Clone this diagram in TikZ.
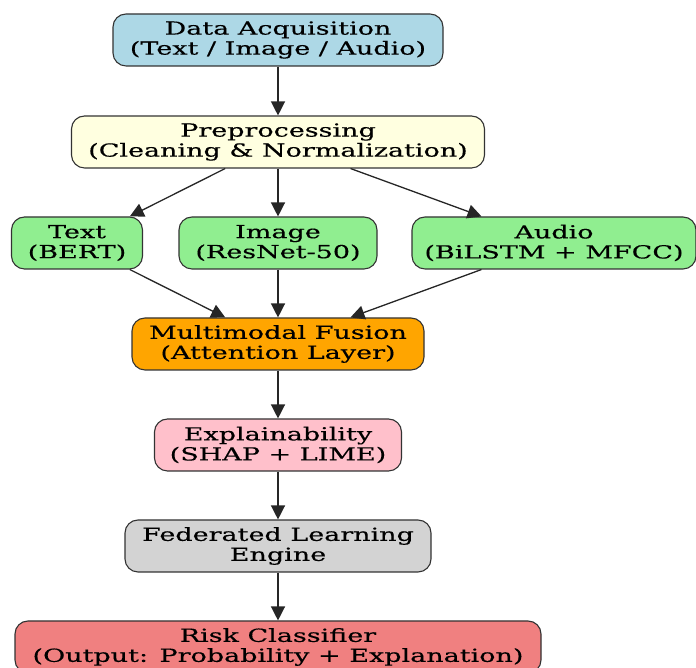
\documentclass[tikz,border=0pt]{standalone}
\usepackage{fontspec}
\setmainfont{DejaVu Serif}[FakeStretch=1.5,FakeBold=0.4]
\usetikzlibrary{arrows.meta}
\definecolor{lblue}{RGB}{173,216,230}
\definecolor{lyellow}{RGB}{255,255,224}
\definecolor{lgreen}{RGB}{144,238,144}
\definecolor{dorange}{RGB}{255,165,0}
\definecolor{lpink}{RGB}{255,192,203}
\definecolor{lgray}{RGB}{211,211,211}
\definecolor{lcoral}{RGB}{240,128,128}
\tikzstyle{block}=[draw=black!80,line width=1.1pt,rounded corners=13pt,minimum height=52pt,align=center,inner sep=2pt,font=\fontsize{18}{20}\selectfont]
\tikzstyle{flow}=[-{Triangle[length=14pt,width=14pt]},line width=1.3pt,black!85]

\begin{document}
\begin{tikzpicture}[x=1pt,y=1pt]
\useasboundingbox (0,0) rectangle (696,668);
  \node[block,fill=lblue,minimum width=330pt] (acq) at (278,628) {Data Acquisition\\(Text / Image / Audio)};
  \node[block,fill=lyellow,minimum width=413pt] (prep) at (278,526) {Preprocessing\\(Cleaning \& Normalization)};
  \node[block,fill=lgreen,minimum width=131pt] (txt) at (77,425) {Text\\(BERT)};
  \node[block,fill=lgreen,minimum width=198pt] (img) at (278,425) {Image\\(ResNet-50)};
  \node[block,fill=lgreen,minimum width=284pt] (aud) at (554,425) {Audio\\(BiLSTM + MFCC)};
  \node[block,fill=dorange,minimum width=292pt] (fus) at (278,324) {Multimodal Fusion\\(Attention Layer)};
  \node[block,fill=lpink,minimum width=247pt] (xai) at (278,223) {Explainability\\(SHAP + LIME)};
  \node[block,fill=lgray,minimum width=306pt] (fed) at (278,122) {Federated Learning\\Engine};
  \node[block,fill=lcoral,minimum width=526pt] (risk) at (278,21) {Risk Classifier\\(Output: Probability + Explanation)};
\draw[flow] (acq) -- (prep);
\draw[flow] (prep) -- (txt);
\draw[flow] (prep) -- (img);
\draw[flow] (prep) -- (aud);
\draw[flow] (txt) -- (fus);
\draw[flow] (img) -- (fus);
\draw[flow] (aud) -- (fus);
\draw[flow] (fus) -- (xai);
\draw[flow] (xai) -- (fed);
\draw[flow] (fed) -- (risk);
\end{tikzpicture}
\end{document}
